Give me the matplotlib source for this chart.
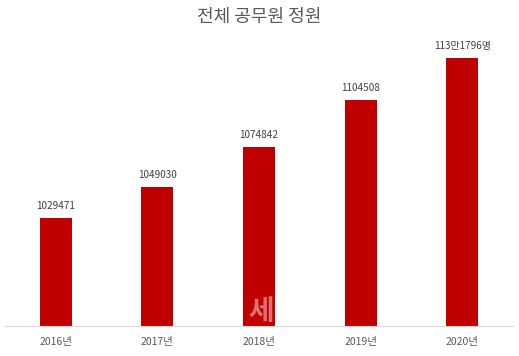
import matplotlib as mpl
mpl.use('Agg')
import matplotlib.pyplot as plt

plt.rcParams['font.family'] = ['Noto Sans CJK KR', 'DejaVu Sans']

years = ['2016년', '2017년', '2018년', '2019년', '2020년']
staff = [1029471, 1049030, 1074842, 1104508, 1131796]
bar_labels = ['1029471', '1049030', '1074842', '1104508', '113만1796명']

fig = plt.figure(figsize=(5.19, 3.56), dpi=100)
ax = fig.add_axes([5 / 519, 1 - 326 / 356, 508 / 519, (326 - 45) / 356])

x = range(len(years))
bars = ax.bar(x, staff, width=0.315, color='#C00000', zorder=2)
ax.set_ylim(960000, 1140000)
ax.set_xlim(-0.5, len(years) - 0.5)

for b, lab in zip(bars, bar_labels):
    ax.annotate(lab, (b.get_x() + b.get_width() / 2, b.get_height()),
                xytext=(0, 5), textcoords='offset points', ha='center',
                va='bottom', fontsize=7.2, color='#404040')

ax.set_xticks(list(x))
ax.set_xticklabels(years, fontsize=7.5, color='#595959')
ax.tick_params(axis='x', length=0, pad=8)
ax.set_yticks([])
for s in ['top', 'right', 'left']:
    ax.spines[s].set_visible(False)
ax.spines['bottom'].set_color('#D9D9D9')
ax.spines['bottom'].set_linewidth(0.8)

# watermark
ax.text(2.15, 960000, '세상', fontsize=20, color='white', alpha=0.45,
        ha='center', va='bottom', fontweight='bold', zorder=3)

fig.text(0.5, 1 - 17 / 356, '전체 공무원 정원', ha='center', va='center',
         fontsize=13, color='#595959')

fig.savefig('out.png', dpi=100)
